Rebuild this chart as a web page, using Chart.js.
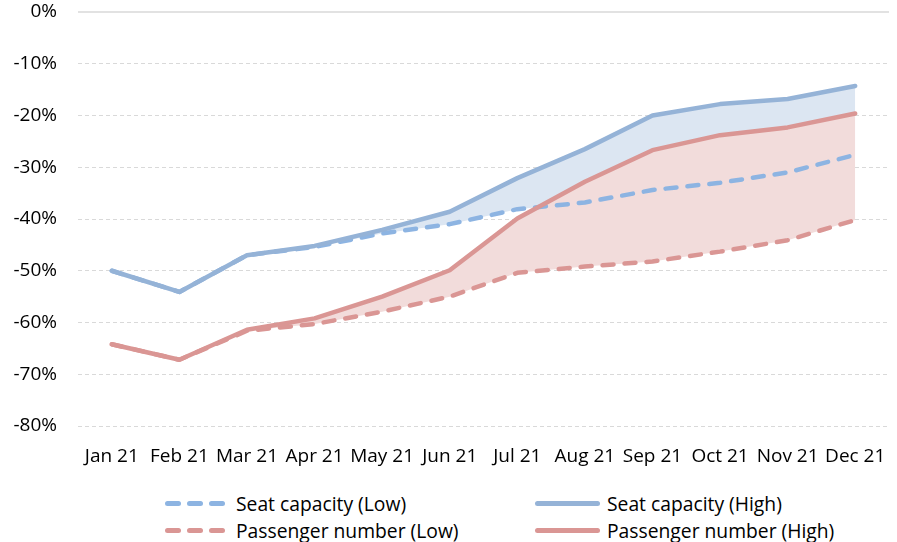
<!DOCTYPE html>
<html lang="en">
<head>
    <meta charset="UTF-8">
    <title>Seat capacity and passenger number scenarios</title>
    <script src="https://cdn.jsdelivr.net/npm/chart.js"></script>
    <style>
        body {
            margin: 0;
            width: 897px;
            height: 542px;
            background: #fff;
            font-family: "Open Sans", sans-serif;
            position: relative;
            overflow: hidden;
        }
        #wrap {
            position: absolute;
            left: 0;
            top: 0;
            width: 897px;
            height: 472px;
        }
        .legend-item {
            position: absolute;
            display: flex;
            align-items: center;
            font-size: 19.3px;
            color: #000;
            height: 26px;
            white-space: nowrap;
        }
        .swatch {
            display: inline-flex;
            align-items: center;
        }
        .dash {
            display: inline-block;
            width: 16px;
            height: 5px;
            border-radius: 2.5px;
            margin-right: 6px;
        }
        .dash:last-child { margin-right: 0; }
        .solid {
            display: inline-block;
            width: 65px;
            height: 5px;
            border-radius: 2.5px;
        }
    </style>
</head>
<body>
    <div id="wrap"><canvas id="chart" width="897" height="472"></canvas></div>
    <div id="legend"></div>

    <script>
        const months = ['Jan 21', 'Feb 21', 'Mar 21', 'Apr 21', 'May 21', 'Jun 21',
                        'Jul 21', 'Aug 21', 'Sep 21', 'Oct 21', 'Nov 21', 'Dec 21'];
        const seatLow = [-50, -54.1, -47, -45.4, -42.8, -41, -38.1, -36.8, -34.4, -33, -31, -27.6];
        const seatHigh = [-50, -54.1, -47, -45.2, -42.1, -38.6, -32.1, -26.5, -20, -17.8, -16.8, -14.3];
        const paxLow = [-64.2, -67.2, -61.6, -60.3, -57.9, -55, -50.4, -49.2, -48.2, -46.3, -44.1, -40.2];
        const paxHigh = [-64.2, -67.2, -61.4, -59.2, -55, -49.9, -39.9, -32.8, -26.7, -23.8, -22.3, -19.6];
        const yTicks = [0, -10, -20, -30, -40, -50, -60, -70, -80];

        const seatDashColor = '#8db4e2';
        const seatColor = '#95b3d7';
        const paxColor = '#da9694';
        const seatFill = '#dce6f2';
        const paxFill = '#f2dcdb';

        const legendRows = [
            { label: 'Seat capacity (Low)', color: seatDashColor, dashed: true, left: 165, top: 490 },
            { label: 'Seat capacity (High)', color: seatColor, dashed: false, left: 535, top: 490 },
            { label: 'Passenger number (Low)', color: paxColor, dashed: true, left: 165, top: 517 },
            { label: 'Passenger number (High)', color: paxColor, dashed: false, left: 535, top: 517 }
        ];

        // the 0% line is solid, the others dashed
        const zeroLine = {
            id: 'zeroLine',
            afterDraw(chart) {
                const y = chart.scales.y.getPixelForValue(0);
                const { left, right } = chart.chartArea;
                const ctx = chart.ctx;
                ctx.save();
                ctx.strokeStyle = '#d9d9d9';
                ctx.lineWidth = 1.5;
                ctx.beginPath();
                ctx.moveTo(left, y);
                ctx.lineTo(right, y);
                ctx.stroke();
                ctx.restore();
            }
        };

        const lineBase = {
            borderWidth: 4.5,
            pointRadius: 0,
            tension: 0,
            borderJoinStyle: 'round',
            borderCapStyle: 'round'
        };

        new Chart(document.getElementById('chart'), {
            type: 'line',
            data: {
                labels: months,
                datasets: [
                    { ...lineBase, label: 'Seat capacity (Low)', data: seatLow, borderColor: seatDashColor,
                      borderDash: [11, 11], fill: false, order: 3 },
                    { ...lineBase, label: 'Seat capacity (High)', data: seatHigh, borderColor: seatColor,
                      backgroundColor: seatFill, fill: '-1', order: 2 },
                    { ...lineBase, label: 'Passenger number (Low)', data: paxLow, borderColor: paxColor,
                      borderDash: [11, 11], fill: false, order: 1 },
                    { ...lineBase, label: 'Passenger number (High)', data: paxHigh, borderColor: paxColor,
                      backgroundColor: paxFill, fill: '-1', order: 0 }
                ]
            },
            options: {
                responsive: false,
                animation: false,
                layout: { padding: { top: 0, right: 8, left: 0, bottom: 0 } },
                plugins: {
                    legend: { display: false },
                    tooltip: { enabled: false },
                    filler: { drawTime: 'beforeDatasetsDraw' }
                },
                scales: {
                    x: {
                        offset: true,
                        grid: { display: false },
                        border: { display: false },
                        ticks: {
                            color: '#000',
                            font: { family: 'Open Sans', size: 19 },
                            padding: 11,
                            maxRotation: 0,
                            autoSkip: false
                        },
                        afterFit(scale) { scale.height = 46; }
                    },
                    y: {
                        min: -80,
                        max: 0,
                        afterBuildTicks(scale) { scale.ticks = yTicks.map(v => ({ value: v })); },
                        grid: {
                            color: ctx => ctx.tick && ctx.tick.value === 0 ? 'rgba(0,0,0,0)' : '#d9d9d9',
                            lineWidth: 1,
                            drawTicks: false
                        },
                        border: { display: false, dash: [4, 3] },
                        ticks: {
                            color: '#000',
                            font: { family: 'Open Sans', size: 19 },
                            padding: 21,
                            callback: v => v + '%'
                        },
                        afterFit(scale) {
                            scale.width = 78;
                            scale.paddingTop = 12;
                        }
                    }
                }
            },
            plugins: [zeroLine]
        });

        const legend = document.getElementById('legend');
        legendRows.forEach(item => {
            const div = document.createElement('div');
            div.className = 'legend-item';
            div.style.left = item.left + 'px';
            div.style.top = item.top + 'px';
            const sw = document.createElement('span');
            sw.className = 'swatch';
            if (item.dashed) {
                for (let i = 0; i < 3; i++) {
                    const d = document.createElement('span');
                    d.className = 'dash';
                    d.style.background = item.color;
                    sw.appendChild(d);
                }
                sw.style.marginRight = '11px';
            } else {
                const s = document.createElement('span');
                s.className = 'solid';
                s.style.background = item.color;
                sw.appendChild(s);
                sw.style.marginRight = '7px';
            }
            div.appendChild(sw);
            div.appendChild(document.createTextNode(item.label));
            legend.appendChild(div);
        });
    </script>
</body>
</html>
